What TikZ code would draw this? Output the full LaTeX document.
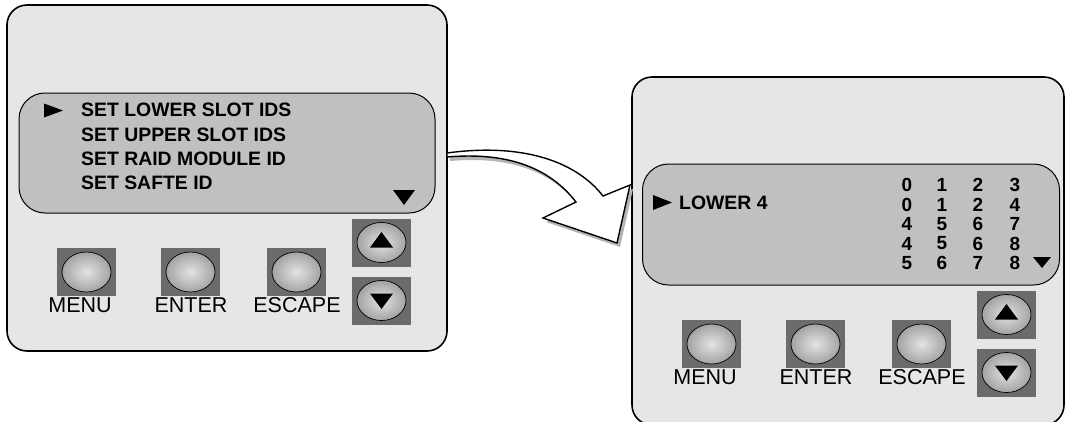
\documentclass[tikz,border=0pt]{standalone}
\usepackage{fontspec}
\setmainfont{Liberation Sans}
\usetikzlibrary{calc, positioning, shapes, arrows}

\definecolor{panelgray}{RGB}{230,230,230}
\definecolor{lcdgray}{RGB}{192,192,192}
\definecolor{keygray}{RGB}{107,107,107}
\definecolor{shadowgray}{RGB}{180,180,180}

\tikzset{
panel/.style={draw=black, line width=1.6pt, fill=panelgray, rounded corners=20pt, inner sep=0pt},
lcd/.style={draw=black, line width=1pt, fill=lcdgray, rounded corners=26pt, inner sep=0pt},
keysq/.style={fill=keygray, minimum width=59pt, minimum height=48pt, inner sep=0pt},
knob/.style={draw=black, line width=0.7pt, inner color=gray!22, outer color=gray!72},
lcdtext/.style={font=\fontsize{19.4}{21}\selectfont\bfseries, inner sep=0pt},
keytext/.style={font=\fontsize{21.5}{23}\selectfont, inner sep=0pt},
digit/.style={font=\fontsize{19}{21}\selectfont\bfseries, inner sep=0pt}
}

\newcommand{\bendarrow}{(447,153) .. controls (520,143) and (575,160) .. (603,196)
 -- (630,185) -- (617,243) -- (543,218) -- (576,202)
 .. controls (548,166) and (505,152) .. (447,157) -- cycle}

\begin{document}
\begin{tikzpicture}[x=1pt,y=-1pt]
\useasboundingbox (0,0) rectangle (1065,421);
% the two front panels
\node[panel, minimum width=440pt, minimum height=346pt] (pnlL) at (227,178) {};
\node[panel, minimum width=432pt, minimum height=348pt] (pnlR) at (848,251) {};
\node[lcd, minimum width=416pt, minimum height=120pt] (lcdL) at (227,153) {};
\node[lcd, minimum width=417pt, minimum height=121pt] (lcdR) at (851,224.5) {};
% keys
\foreach \s/\dx/\dy in {L/0/0, R/625/72} {
\begin{scope}[shift={(\dx,\dy)}]
\node[keysq] (menu\s) at (86.5,272) {};
\node[keysq] (enter\s) at (190.5,272) {};
\node[keysq] (esc\s) at (296.5,272) {};
\node[keysq] (up\s) at (381.5,242.5) {};
\node[keysq] (down\s) at (381.5,300.5) {};
\foreach \k in {menu,enter,esc,up,down} {\shadedraw[knob] (\k\s.center) ellipse (24.5 and 20);}
\fill[shift={(up\s.center)}] (-11.5,5) -- (11.5,5) -- (0,-10.5) -- cycle;
\fill[shift={(down\s.center)}] (-11.5,-7) -- (11.5,-7) -- (0,8.5) -- cycle;
\node[keytext] (menuT\s) at (80,305.5) {MENU};
\node[keytext] (enterT\s) at (191,305.5) {ENTER};
\node[keytext] (escT\s) at (297,305.5) {ESCAPE};
\end{scope}
}
% left display
\fill (44,103.5) -- (63,110.5) -- (44,117.5) -- cycle;
\fill (393,190) -- (415,190) -- (404,205) -- cycle;
\node[lcdtext, anchor=west] (set1) at (81,110) {SET LOWER SLOT IDS};
\node[lcdtext, anchor=west] (set2) at (81,135) {SET UPPER SLOT IDS};
\node[lcdtext, anchor=west] (set3) at (81,158.5) {SET RAID MODULE ID};
\node[lcdtext, anchor=west] (set4) at (81,183) {SET SAFTE ID};
% right display
\fill (653,195) -- (672,202.5) -- (653,210) -- cycle;
\fill (1033,257) -- (1051,257) -- (1042,268) -- cycle;
\node[lcdtext, anchor=west] (lower) at (679,203) {LOWER 4};
\foreach \r/\a/\b/\c/\d in {1/0/1/2/3, 2/0/1/2/4, 3/4/5/6/7, 4/4/5/6/8, 5/5/6/7/8} {
\node[digit] (d\r a) at (907,165.5+19.5*\r) {\a};
\node[digit] (d\r b) at (942,165.5+19.5*\r) {\b};
\node[digit] (d\r c) at (978,165.5+19.5*\r) {\c};
\node[digit] (d\r d) at (1015,165.5+19.5*\r) {\d};
}
% bent arrow between the panels
\fill[shadowgray, shift={(3,4)}] \bendarrow;
\draw[fill=white, line width=1.4pt, line join=miter] \bendarrow;
\end{tikzpicture}
\end{document}
